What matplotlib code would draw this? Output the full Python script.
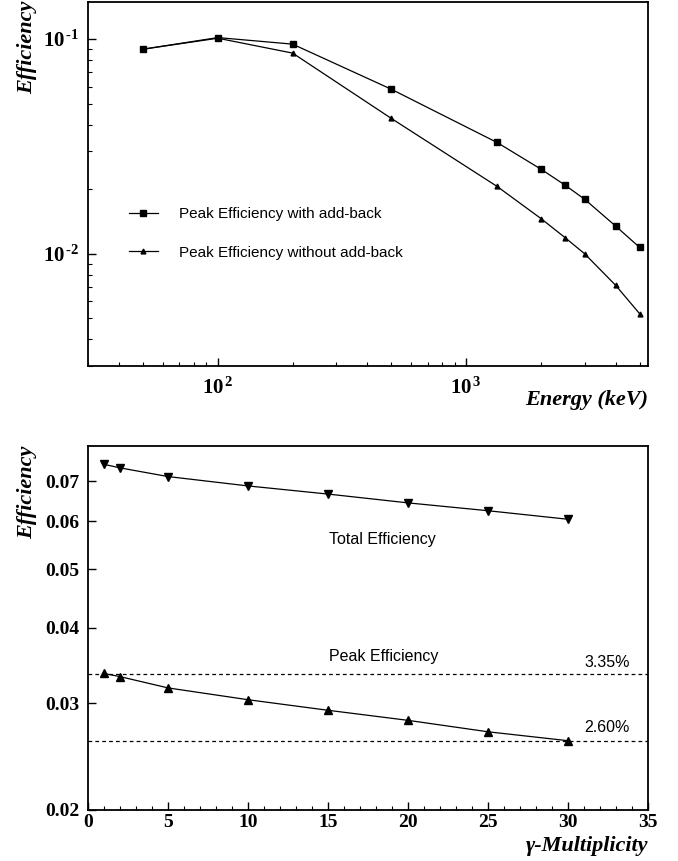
import numpy as np
import matplotlib
matplotlib.use('Agg')
import matplotlib.pyplot as plt
from matplotlib.ticker import FixedLocator, NullLocator, LogLocator, NullFormatter

plt.rcParams['font.family'] = ['Liberation Serif', 'DejaVu Serif']
plt.rcParams['mathtext.fontset'] = 'custom'
plt.rcParams['mathtext.rm'] = 'Liberation Serif'
plt.rcParams['mathtext.bf'] = 'Liberation Serif:bold'
plt.rcParams['mathtext.it'] = 'Liberation Serif:italic'

# top panel: peak efficiency vs energy
energy = [50, 100, 200, 500, 1332, 2000, 2500, 3000, 4000, 5000]
eff_addback = [0.0898, 0.1017, 0.0948, 0.0584, 0.0330, 0.0248, 0.0209, 0.01795, 0.01346, 0.0107]
eff_no_addback = [0.0898, 0.1010, 0.0861, 0.0427, 0.0206, 0.0146, 0.0119, 0.0100, 0.00713, 0.00525]

# bottom panel: efficiency vs gamma multiplicity
mult = [1, 2, 5, 10, 15, 20, 25, 30]
eff_total = [0.0746, 0.0736, 0.0712, 0.0687, 0.0666, 0.0644, 0.0625, 0.0605]
eff_peak = [0.0336, 0.0332, 0.0318, 0.0304, 0.0292, 0.0281, 0.0269, 0.0260]
ref_levels = [0.0335, 0.0260]
ref_labels = ['3.35%', '2.60%']

label_font = dict(fontsize=16, fontweight='bold', fontstyle='italic', family='Liberation Serif')
sans = ['Liberation Sans', 'DejaVu Sans']
note_size = 11.5

fig = plt.figure(figsize=(6.78, 8.61), dpi=100)
ax1 = fig.add_axes([0.1298, 0.5749, 0.826, 0.4228])
ax2 = fig.add_axes([0.1298, 0.0598, 0.826, 0.4222])

for ax in (ax1, ax2):
    for sp in ax.spines.values():
        sp.set_linewidth(1.3)
    ax.tick_params(which='both', direction='in', top=False, right=False)
    ax.tick_params(which='major', length=6, width=1.0)
    ax.tick_params(which='minor', length=3, width=0.8)

# ---- top
ax1.plot(energy, eff_addback, color='black', lw=0.9, marker='s', ms=4.5,
         label='Peak Efficiency with add-back')
ax1.plot(energy, eff_no_addback, color='black', lw=0.9, marker='^', ms=3.5,
         label='Peak Efficiency without add-back')
ax1.set_xscale('log')
ax1.set_yscale('log')
ax1.set_xlim(30, 5400)
ax1.set_ylim(0.003, 0.149)
ax1.set_xticks([100, 1000], [r'$\mathbf{10^{\,2}}$', r'$\mathbf{10^{\,3}}$'])
ax1.xaxis.set_minor_locator(LogLocator(base=10, subs=np.arange(2, 10)))
ax1.xaxis.set_minor_formatter(NullFormatter())
ax1.set_yticks([0.01, 0.1], [r'$\mathbf{10^{\,\text{-}2}}$', r'$\mathbf{10^{\,\text{-}1}}$'])
ax1.yaxis.set_minor_locator(LogLocator(base=10, subs=np.arange(2, 10)))
ax1.yaxis.set_minor_formatter(NullFormatter())
for t in ax1.get_xticklabels() + ax1.get_yticklabels():
    t.set_fontsize(15)
ax1.tick_params(axis='x', pad=8)
ax1.tick_params(axis='y', pad=6)
ax1.set_xlabel('Energy (keV)', loc='right', **label_font)
ax1.xaxis.set_label_coords(1.0, -0.065)
ax1.set_ylabel('Efficiency', loc='top', **label_font)
ax1.yaxis.set_label_coords(-0.09, 1.005)
ax1.legend(loc='center left', bbox_to_anchor=(0.073, 0.364), frameon=False,
           borderpad=0, borderaxespad=0, handlelength=1.9, handletextpad=1.4,
           labelspacing=1.6, prop={'family': sans, 'size': 11})

# ---- bottom
ax2.plot(mult, eff_total, color='black', lw=0.9, marker='v', ms=6)
ax2.plot(mult, eff_peak, color='black', lw=0.9, marker='^', ms=6)
for lvl in ref_levels:
    ax2.axhline(lvl, color='black', lw=0.9, ls=(0, (3, 2.5)))
ax2.set_yscale('log')
ax2.set_xlim(0, 35)
ax2.set_ylim(0.02, 0.08)
ax2.set_xticks([0, 5, 10, 15, 20, 25, 30, 35])
ax2.xaxis.set_minor_locator(FixedLocator(np.arange(0, 36, 1)))
yt = [0.02, 0.03, 0.04, 0.05, 0.06, 0.07]
ax2.set_yticks(yt, ['%.2f' % v for v in yt])
ax2.yaxis.set_minor_locator(NullLocator())
for t in ax2.get_xticklabels() + ax2.get_yticklabels():
    t.set_fontsize(14)
    t.set_fontweight('bold')
ax2.tick_params(axis='x', pad=3)
ax2.tick_params(axis='y', pad=6)
ax2.set_xlabel('γ-Multiplicity', loc='right', **label_font)
ax2.xaxis.set_label_coords(1.0, -0.072)
ax2.set_ylabel('Efficiency', loc='top', **label_font)
ax2.yaxis.set_label_coords(-0.09, 1.0)

ax2.text(15.05, 0.0559, 'Total Efficiency', family=sans, fontsize=note_size, va='center')
ax2.text(15.05, 0.0358, 'Peak Efficiency', family=sans, fontsize=note_size, va='center')
ax2.text(31, 0.0350, ref_labels[0], family=sans, fontsize=note_size, va='center')
ax2.text(31, 0.02738, ref_labels[1], family=sans, fontsize=note_size, va='center')

fig.savefig('out.png', dpi=100)
